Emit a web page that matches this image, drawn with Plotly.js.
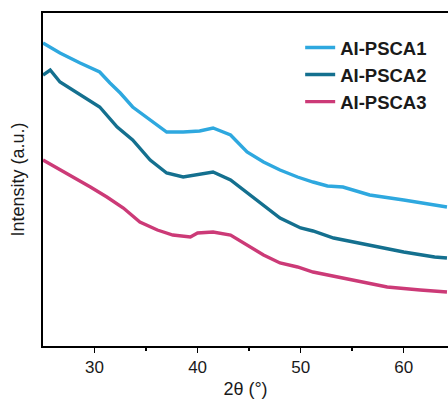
<!DOCTYPE html>
<html>
<head>
<meta charset="utf-8">
<script src="https://cdn.plot.ly/plotly-3.0.1.min.js"></script>
<style>html,body{margin:0;padding:0;background:#fff;}#chart{width:448px;height:403px;}</style>
</head>
<body>
<div id="chart"></div>
<script>
// 2θ (degrees) and intensity (a.u.)
const x1 = [25.0,26.65,28.6,30.5,31.5,32.5,33.7,35.4,36.4,37.0,38.6,40.2,41.5,43.2,44.8,46.4,48.0,49.7,51.2,52.6,54.1,56.7,60.0,64.2];
const y1 = [303,293,283,274,263,253,239,226,218,214,214,215,218,211,194,184,176,169,164,160,159,151,146,139];

const x2 = [25.0,25.7,26.65,28.6,30.5,32.2,33.7,35.4,37.0,38.6,40.2,41.5,43.2,44.8,46.4,48.0,50.0,51.2,53.2,56.5,60.0,63.0,64.2];
const y2 = [271,276,264,251,239,219,206,186,173,169,172,174,166,153,141,128,118,115,108,101,94,89,88];

const x3 = [25.0,26.4,27.9,29.6,31.2,32.8,34.4,36.1,37.6,39.3,40.0,41.5,43.2,44.8,46.4,48.0,49.7,51.2,52.6,55.1,58.4,61.6,64.2];
const y3 = [186,178,169,159,149,138,124,116,111,109,113,114,111,101,91,83,79,74,71,66,59,56,54];

const names = ["AI-PSCA1","AI-PSCA2","AI-PSCA3"];
const colors = ["#2EA8DF","#14708F","#CC3A77"];
const xTicks = [30,40,50,60];

const traces = [[x1,y1],[x2,y2],[x3,y3]].map((d,i)=>({
  x: d[0], y: d[1], type: 'scatter', mode: 'lines', name: names[i],
  legendgroup: 'g'+i,
  line: {color: colors[i], width: 3.4, shape: 'linear'}
}));

const layout = {
  width: 448, height: 403,
  margin: {l: 43, r: 0, t: 13, b: 57},
  paper_bgcolor: '#fff', plot_bgcolor: '#fff',
  font: {family: 'Liberation Sans, Arial, sans-serif', color: '#1a1a1a'},
  showlegend: true,
  legend: {
    x: 0.635, y: 0.952, xanchor: 'left', yanchor: 'top',
    bgcolor: 'rgba(0,0,0,0)', traceorder: 'grouped', tracegroupgap: 0,
    font: {family: 'Liberation Sans, Arial, sans-serif', size: 18.5, color: '#1a1a1a', weight: 'bold'}
  },
  xaxis: {
    range: [25, 64.3], showgrid: false, zeroline: false,
    showline: true, linecolor: '#000', linewidth: 2, mirror: true,
    ticks: 'outside', ticklen: 5, tickwidth: 1.5, tickcolor: '#000',
    tickvals: xTicks, ticktext: xTicks.map(String),
    tickfont: {size: 17, color: '#1a1a1a'},
    minor: {tickvals: [35,45,55], ticks: 'outside', ticklen: 3, tickwidth: 1.5, tickcolor: '#000'},
    title: {text: '2θ (°)', font: {size: 18, color: '#1a1a1a'}, standoff: 6}
  },
  yaxis: {
    range: [0, 333], showgrid: false, zeroline: false,
    showline: true, linecolor: '#000', linewidth: 2, mirror: false,
    ticks: '', showticklabels: false,
    title: {text: 'Intensity (a.u.)', font: {size: 18, color: '#1a1a1a'}, standoff: 12}
  }
};

Plotly.newPlot('chart', traces, layout, {displayModeBar: false, staticPlot: true});
</script>
</body>
</html>
